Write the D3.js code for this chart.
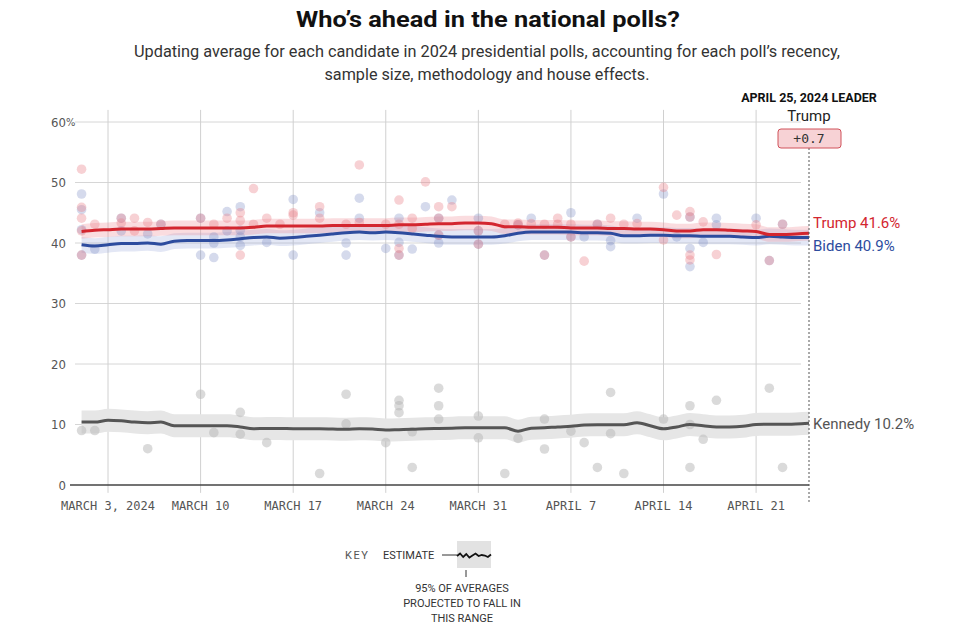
<!DOCTYPE html>
<html><head><meta charset="utf-8">
<script src="https://cdn.jsdelivr.net/npm/d3@7/dist/d3.min.js"></script>
<style>
body{margin:0;background:#fff;}
svg{display:block;}
</style></head>
<body><svg id="chart" width="959" height="632"></svg>
<script>
// ---------- DATA ----------
const startDate = "2024-03-01";
const endDate = "2024-04-25";
// daily averages Mar 1 .. Apr 25
const trumpAvg = [41.9,42.1,42.2,42.3,42.3,42.3,42.4,42.5,42.5,42.5,42.5,42.5,42.5,42.6,42.8,42.8,42.8,42.8,42.8,42.9,42.9,42.9,42.9,42.9,43.0,43.0,43.1,43.2,43.2,43.3,43.3,43.2,42.7,42.7,42.6,42.6,42.6,42.5,42.5,42.5,42.4,42.4,42.3,42.3,42.2,42.0,42.0,42.2,42.2,42.1,42.0,41.9,41.4,41.4,41.5,41.6];
const bidenAvg = [39.7,39.5,39.7,39.9,39.9,40.0,39.8,40.3,40.4,40.4,40.4,40.5,40.7,40.9,41.0,40.8,40.9,41.1,41.3,41.5,41.7,41.8,41.7,41.8,41.7,41.5,41.3,41.1,41.0,41.0,41.0,41.0,41.2,41.6,41.8,41.8,41.8,41.8,41.7,41.7,41.6,41.2,41.2,41.3,41.3,41.2,41.2,41.1,41.1,41.1,41.0,40.9,41.1,41.0,40.9,40.9];
const kennedyAvg = [10.4,10.4,10.7,10.6,10.4,10.3,10.4,9.8,9.8,9.8,9.8,9.8,9.6,9.3,9.35,9.35,9.3,9.3,9.3,9.25,9.2,9.3,9.25,9.1,9.15,9.2,9.3,9.35,9.4,9.45,9.45,9.45,9.45,8.9,9.4,9.45,9.6,9.7,9.9,9.95,9.95,9.95,10.3,9.8,9.3,9.6,10.0,9.8,9.6,9.6,9.7,10.0,10.05,10.05,10.1,10.2];
// uncertainty half-widths (points)
const trumpMargin = 1.2;
const bidenMargin = 1.3;
const kennedyMargin = 1.9;

// individual polls [date, value]
const trumpPolls = [["03-01",52.2],["03-01",45.9],["03-01",44.1],["03-01",42.0],["03-01",38.0],["03-02",43.1],["03-04",44.1],["03-04",43.3],["03-05",44.1],["03-05",42.0],["03-06",43.4],["03-07",43.1],["03-10",44.1],["03-11",43.1],["03-12",44.1],["03-13",45.0],["03-13",43.7],["03-13",38.0],["03-14",49.0],["03-14",43.1],["03-15",44.1],["03-16",43.1],["03-17",45.0],["03-17",44.6],["03-19",46.0],["03-19",44.1],["03-21",43.1],["03-22",52.9],["03-22",43.4],["03-24",43.1],["03-25",47.1],["03-25",43.1],["03-25",39.1],["03-25",38.0],["03-26",44.1],["03-26",42.4],["03-27",50.1],["03-28",46.0],["03-28",44.1],["03-28",41.3],["03-29",46.0],["03-31",42.0],["03-31",39.8],["04-02",43.1],["04-03",43.3],["04-03",43.0],["04-04",43.2],["04-05",38.0],["04-05",43.1],["04-06",44.1],["04-06",43.1],["04-07",43.1],["04-07",41.0],["04-08",37.0],["04-09",43.1],["04-10",44.1],["04-11",43.1],["04-12",43.2],["04-14",49.2],["04-14",40.5],["04-15",44.6],["04-16",45.2],["04-16",44.3],["04-16",38.0],["04-16",37.2],["04-17",43.5],["04-18",38.1],["04-21",43.0],["04-22",37.1],["04-23",43.1]];
const bidenPolls = [["03-01",48.1],["03-01",45.5],["03-01",42.2],["03-01",38.0],["03-02",39.0],["03-04",44.1],["03-04",42.0],["03-06",41.5],["03-07",43.1],["03-10",44.1],["03-10",38.0],["03-11",41.0],["03-11",40.0],["03-11",37.6],["03-12",45.2],["03-12",42.0],["03-13",46.0],["03-13",42.1],["03-13",41.0],["03-13",39.6],["03-15",40.1],["03-17",47.2],["03-17",38.0],["03-19",45.0],["03-21",40.0],["03-21",38.0],["03-22",47.4],["03-22",44.1],["03-24",39.1],["03-25",44.1],["03-25",40.1],["03-25",38.0],["03-26",39.0],["03-27",46.0],["03-28",44.1],["03-28",41.3],["03-28",40.0],["03-29",47.1],["03-31",44.1],["03-31",42.0],["03-31",39.8],["04-03",43.0],["04-04",44.1],["04-05",38.0],["04-07",45.0],["04-07",41.0],["04-08",41.0],["04-09",43.1],["04-10",40.4],["04-10",39.4],["04-12",44.1],["04-14",48.1],["04-15",41.0],["04-16",44.3],["04-16",39.1],["04-16",36.1],["04-17",40.1],["04-18",44.1],["04-18",43.0],["04-21",44.1],["04-22",37.1],["04-23",43.1]];
const kennedyPolls = [["03-01",9.0],["03-02",9.0],["03-06",6.0],["03-10",15.0],["03-11",8.65],["03-13",12.0],["03-13",8.4],["03-15",7.0],["03-19",1.9],["03-21",15.0],["03-21",10.1],["03-24",7.0],["03-25",14.0],["03-25",13.1],["03-25",11.95],["03-26",8.8],["03-26",2.9],["03-28",16.0],["03-28",13.1],["03-28",10.9],["03-31",11.4],["03-31",7.8],["04-02",1.9],["04-03",7.7],["04-05",10.9],["04-05",5.95],["04-07",8.9],["04-08",7.0],["04-09",2.9],["04-10",15.3],["04-10",8.5],["04-11",1.9],["04-14",10.9],["04-16",13.1],["04-16",10.0],["04-16",2.9],["04-17",7.55],["04-18",14.0],["04-22",16.0],["04-23",2.9]];

const yTicks = [0,10,20,30,40,50,60];
const xTickLabels = ["MARCH 3, 2024","MARCH 10","MARCH 17","MARCH 24","MARCH 31","APRIL 7","APRIL 14","APRIL 21"];
const leader = {date:"APRIL 25, 2024 LEADER", name:"Trump", margin:"+0.7"};
const endLabels = [["Trump",41.6],["Biden",40.9],["Kennedy",10.2]];
const legendWave = [0.2,-0.3,0.4,-0.2,0.5,0.1,-0.3,0.2,0.0,0.1,0.4,-0.1];

// ---------- CHART ----------
const svg = d3.select("#chart");
const parse = d3.timeParse("%Y-%m-%d");
const days = d3.timeDay.range(parse(startDate), d3.timeDay.offset(parse(endDate),1));
const pd = s => parse("2024-"+s);

const x = d3.scaleTime().domain([new Date(2024,1,29,3), parse(endDate)]).range([70,809]);
const y = d3.scaleLinear().domain([0,60]).range([485,122]);

const RED="#d3262f", BLUE="#2d4c9e", GRAY="#555555";
const monoFont = "'DejaVu Sans Mono', monospace";
const sansFont = "Roboto, 'Noto Sans', sans-serif";

// title
svg.append("text").attr("x",488).attr("y",27).attr("text-anchor","middle")
  .attr("font-family","Roboto, sans-serif").attr("font-weight",700).attr("font-size",22)
  .attr("fill","#111").attr("textLength",384).attr("lengthAdjust","spacingAndGlyphs")
  .text("Who’s ahead in the national polls?");
svg.append("text").attr("x",487).attr("y",57).attr("text-anchor","middle")
  .attr("font-family",sansFont).attr("font-size",16.5).attr("fill","#333")
  .attr("textLength",706).attr("lengthAdjust","spacingAndGlyphs")
  .text("Updating average for each candidate in 2024 presidential polls, accounting for each poll’s recency,");
svg.append("text").attr("x",487).attr("y",80).attr("text-anchor","middle")
  .attr("font-family",sansFont).attr("font-size",16.5).attr("fill","#333")
  .attr("textLength",325).attr("lengthAdjust","spacingAndGlyphs")
  .text("sample size, methodology and house effects.");

// horizontal grid
const weekTicks = d3.timeWeek.every(1).range(parse("2024-03-03"), parse("2024-04-22"));
svg.append("g").selectAll("line").data(yTicks.filter(d=>d>0)).join("line")
  .attr("x1",x.range()[0]+5).attr("x2",x(parse(endDate))-8)
  .attr("y1",d=>y(d)).attr("y2",d=>y(d)).attr("stroke","#d6d6d6").attr("stroke-width",1);
// vertical grid
svg.append("g").selectAll("line").data(weekTicks).join("line")
  .attr("x1",d=>x(d)).attr("x2",d=>x(d)).attr("y1",y(62)).attr("y2",y(-1.3))
  .attr("stroke","#d0d0d0").attr("stroke-width",1);

// y labels
const yl = svg.append("g").attr("font-family","'DejaVu Sans Condensed', sans-serif").attr("font-size",13).attr("fill","#555");
yl.selectAll("text").data(yTicks).join("text")
  .attr("x",66).attr("y",d=>y(d)).attr("dy","0.35em").attr("text-anchor","end").text(d=>d);
yl.append("text").attr("x",66).attr("y",y(60)).attr("dy","0.35em").attr("font-size",11).text("%");

// x labels
svg.append("g").selectAll("text").data(weekTicks).join("text")
  .attr("x",d=>x(d)).attr("y",510).attr("text-anchor","middle")
  .attr("font-family",monoFont).attr("font-size",12).attr("fill","#555")
  .text((d,i)=>xTickLabels[i]);

// bands
function band(vals, m, fill, op){
  const area = d3.area().x((d,i)=>x(days[i])).y0(d=>y(d-m)).y1(d=>y(d+m)).curve(d3.curveMonotoneX);
  svg.append("path").datum(vals).attr("d",area).attr("fill",fill).attr("fill-opacity",op);
}
band(kennedyAvg,kennedyMargin,"#e6e6e6",1);
band(bidenAvg,bidenMargin,"#8f9fd6",0.25);
band(trumpAvg,trumpMargin,"#f08c95",0.3);

// dots
function dots(arr, fill, op){
  svg.append("g").selectAll("circle").data(arr).join("circle")
    .attr("cx",d=>x(pd(d[0]))).attr("cy",d=>y(d[1])).attr("r",4.8)
    .attr("fill",fill).attr("fill-opacity",op);
}
dots(kennedyPolls,"#b5b5b5",0.5);
dots(bidenPolls,"#7d8cc4",0.32);
dots(trumpPolls,"#ea7f89",0.36);

// baseline
svg.append("line").attr("x1",x.range()[0]).attr("x2",x(parse(endDate)))
  .attr("y1",y(0)).attr("y2",y(0)).attr("stroke","#444").attr("stroke-width",1.5);

// lines
function line(vals, color){
  const l = d3.line().x((d,i)=>x(days[i])).y(d=>y(d)).curve(d3.curveMonotoneX);
  svg.append("path").datum(vals).attr("d",l).attr("fill","none").attr("stroke",color)
    .attr("stroke-width",3).attr("stroke-linejoin","round");
}
line(kennedyAvg,GRAY);
line(bidenAvg,BLUE);
line(trumpAvg,RED);

// end dotted line
const xe = x(parse(endDate));
svg.append("line").attr("x1",xe).attr("x2",xe).attr("y1",148).attr("y2",y(-2.8))
  .attr("stroke","#555").attr("stroke-width",1).attr("stroke-dasharray","2,2");

// leader box
svg.append("text").attr("x",xe).attr("y",102).attr("text-anchor","middle")
  .attr("font-family",sansFont).attr("font-weight",700).attr("font-size",12.5).attr("fill","#111")
  .text(leader.date);
svg.append("text").attr("x",xe).attr("y",121).attr("text-anchor","middle")
  .attr("font-family",sansFont).attr("font-size",15).attr("fill","#222").text(leader.name);
svg.append("rect").attr("x",xe-31).attr("y",129).attr("width",63).attr("height",19).attr("rx",3)
  .attr("fill","#f7d2d5").attr("stroke","#d0525b").attr("stroke-width",1);
svg.append("text").attr("x",xe).attr("y",143).attr("text-anchor","middle")
  .attr("font-family",monoFont).attr("font-size",13).attr("fill","#333").text(leader.margin);

// end labels
const labColors = [RED,BLUE,"#555"];
const labOffsets = [-11,8.5,0];
svg.append("g").selectAll("text").data(endLabels).join("text")
  .attr("x",xe+4).attr("y",(d,i)=>y(d[1])+labOffsets[i]).attr("dy","0.35em")
  .attr("font-family",sansFont).attr("font-size",15).attr("fill",(d,i)=>labColors[i])
  .text(d=>`${d[0]} ${d[1].toFixed(1)}%`);

// legend
const lg = svg.append("g").attr("font-family",sansFont).attr("font-size",11).attr("fill","#333");
lg.append("text").attr("x",345).attr("y",559).attr("fill","#555").attr("letter-spacing",1.5).text("KEY");
lg.append("text").attr("x",383).attr("y",559).text("ESTIMATE");
lg.append("line").attr("x1",442).attr("x2",457).attr("y1",555).attr("y2",555).attr("stroke","#333");
lg.append("rect").attr("x",457).attr("y",541).attr("width",34).attr("height",27).attr("fill","#e2e2e2");
const lx = d3.scaleLinear().domain([0,legendWave.length-1]).range([457,491]);
lg.append("path").datum(legendWave).attr("d",d3.line().x((d,i)=>lx(i)).y(d=>555+d*5))
  .attr("fill","none").attr("stroke","#111").attr("stroke-width",1.8);
lg.append("line").attr("x1",466).attr("x2",466).attr("y1",570).attr("y2",577).attr("stroke","#333");
["95% OF AVERAGES","PROJECTED TO FALL IN","THIS RANGE"].forEach((t,i)=>{
  lg.append("text").attr("x",462).attr("y",592+i*15).attr("text-anchor","middle").text(t);
});
</script></body></html>
